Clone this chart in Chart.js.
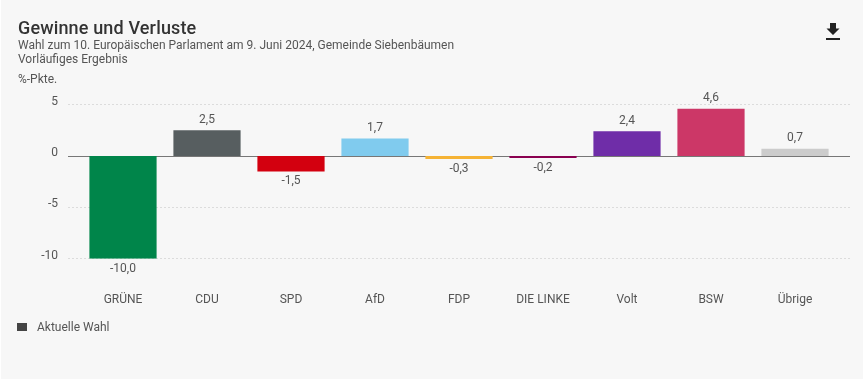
<!DOCTYPE html>
<html><head><meta charset="utf-8">
<script src="https://cdn.jsdelivr.net/npm/chart.js@4"></script>
<style>
html,body{margin:0;padding:0;background:#fff;overflow:hidden}
#wrap{position:absolute;left:1px;top:0;width:862px;height:379px;background:#f7f7f7}
canvas{position:absolute;left:-1px;top:0}
.t{position:absolute;left:17px;color:#444;font-family:Roboto,sans-serif;white-space:nowrap}
</style></head><body>
<div id="wrap">
<canvas id="c" width="863" height="379"></canvas>
<div class="t" style="top:16px;font-size:18px;font-weight:500;color:#333;letter-spacing:.15px;line-height:24px">Gewinne und Verluste</div>
<div class="t" style="top:38px;font-size:12px;line-height:14px;color:#555">Wahl zum 10. Europäischen Parlament am 9. Juni 2024, Gemeinde Siebenbäumen<br>Vorläufiges Ergebnis</div>
<div class="t" style="top:72px;font-size:12px;line-height:14px;color:#555">%-Pkte.</div>
<svg style="position:absolute;left:824px;top:22px" width="18" height="18" viewBox="0 0 18 18"><path d="M5 1h6v5.5h3.5L8 13 1.5 6.5H5z M1 16h14v2H1z" fill="#222"/></svg>
<div style="position:absolute;left:16px;top:323px;width:10px;height:8px;background:#444"></div>
<div class="t" style="left:36px;top:320px;font-size:12px;line-height:14px;color:#555" id="lg"></div>
</div>
<script>
const categories=["GRÜNE","CDU","SPD","AfD","FDP","DIE LINKE","Volt","BSW","Übrige"];
const gains=[-10.0,2.5,-1.5,1.7,-0.3,-0.2,2.4,4.6,0.7];
const barColors=["#00854a","#575e60","#d3000f","#80cbee","#f5b335","#8a0050","#6f2da8","#cc3767","#cccccc"];
const yTicks=[-10,-5,0,5];
const seriesName="Aktuelle Wahl";
const FONT="Roboto, sans-serif";
document.getElementById("lg").textContent=seriesName;
const fmt=v=>v.toFixed(1).replace(".",",");
const decor={
  id:"decor",
  beforeDatasetsDraw(ch){
    const {ctx,scales:{y}}=ch;
    ctx.save();
    for(const t of yTicks){
      const py=Math.floor(y.getPixelForValue(t))+.5;
      ctx.beginPath();ctx.moveTo(68,py);ctx.lineTo(850,py);
      ctx.lineWidth=1;
      if(t===0){ctx.strokeStyle="#777";ctx.setLineDash([]);}
      else{ctx.strokeStyle="#dcdcdc";ctx.setLineDash([2,2]);}
      ctx.stroke();
    }
    ctx.restore();
  },
  afterDatasetsDraw(ch){
    const c=ch.ctx,m=ch.getDatasetMeta(0);
    c.save();
    c.font="12px "+FONT;c.fillStyle="#555";c.textAlign="center";c.textBaseline="middle";
    m.data.forEach((b,i)=>{
      const v=gains[i];
      c.fillText(fmt(v),b.x,v>=0?b.y-10.5:b.y+10);
    });
    c.restore();
  }
};
new Chart(document.getElementById("c"),{
  type:"bar",
  data:{labels:categories,datasets:[{label:seriesName,data:gains,backgroundColor:barColors,barPercentage:.8,categoryPercentage:1,borderWidth:0}]},
  plugins:[decor],
  options:{
    responsive:false,animation:false,
    layout:{padding:{left:0,right:26,top:104.67,bottom:72.33}},
    plugins:{title:{display:false},tooltip:{enabled:false},legend:{display:false}},
    scales:{
      x:{grid:{display:false,drawTicks:false},border:{display:false},afterFit(s){s.height=48;},
        ticks:{color:"#555",font:{family:FONT,size:12},padding:34,maxRotation:0,autoSkip:false}},
      y:{min:-10,max:5,afterFit(s){s.width=81;},afterBuildTicks(s){s.ticks=yTicks.map(v=>({value:v}));},
        grid:{display:false,drawTicks:false},border:{display:false},
        ticks:{color:"#555",font:{family:FONT,size:12},padding:23,labelOffset:-3}}
    }
  }
});
</script>
</body></html>
